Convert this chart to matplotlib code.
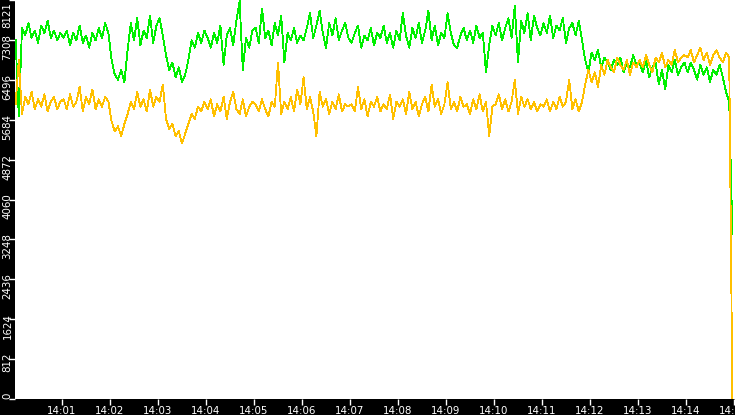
import numpy as np
import matplotlib
matplotlib.use('Agg')
import matplotlib.pyplot as plt
from matplotlib.transforms import ScaledTranslation

# one row per minute, one value every 4 s (14:00:02 ... 14:14:58)
green = [
    7300, 5750, 7550, 7400, 7650, 7350, 7500, 7250, 7600, 7450, 7700, 7350, 7500, 7300, 7450,
    7350, 7500, 7200, 7450, 7300, 7600, 7250, 7400, 7150, 7450, 7300, 7550, 7350, 7650, 7450,
    6900, 6600, 6500, 6700, 6450, 7100, 7650, 7300, 7750, 7200, 7500, 7350, 7800, 7250, 7600,
    7750, 7400, 7000, 6700, 6850, 6550, 6750, 6450, 6600, 6900, 7300, 7150, 7450, 7250, 7500,
    7350, 7150, 7450, 7250, 7600, 6800, 7400, 7550, 7200, 7700, 8100, 6700, 7350, 7150, 7500,
    7550, 7250, 7950, 7350, 7500, 7200, 7650, 7400, 7800, 6850, 7450, 7300, 7550, 7250, 7400,
    7300, 7550, 7850, 7350, 7600, 7900, 7450, 7150, 7650, 7400, 7750, 7300, 7500, 7650, 7350,
    7250, 7450, 7600, 7150, 7400, 7300, 7550, 7200, 7450, 7350, 7600, 7250, 7450, 7150, 7500,
    7300, 7850, 7400, 7150, 7550, 7350, 7650, 7250, 7500, 7900, 7300, 7600, 7200, 7450, 7350,
    7850, 7450, 7200, 7150, 7400, 7550, 7300, 7500, 7250, 7600, 7350, 7450, 6650, 7200, 7600,
    7400, 7650, 7300, 7550, 7750, 7350, 8000, 6850, 7700, 7450, 7850, 7300, 7800, 7550, 7400,
    7650, 7450, 7800, 7350, 7600, 7500, 7750, 7250, 7550, 7650, 7400, 7700, 7300, 6900, 6650,
    7050, 6900, 7100, 6750, 6950, 6850, 6700, 6900, 6800, 6950, 6650, 6850, 6750, 7000, 6800,
    6850, 6650, 6900, 6550, 6750, 6850, 6400, 6700, 6300, 6800, 6650, 6900, 6600, 6750, 6850,
    6650, 6850, 6700, 6500, 6800, 6600, 6750, 6450, 6700, 6600, 6800, 6550, 6250, 6050, 3350,
]
orange = [
    6000, 6900, 5800, 6150, 6000, 6250, 5900, 6100, 5950, 6200, 5850, 6050, 6150, 5900, 6050,
    6100, 5900, 6200, 5950, 6050, 6350, 5850, 6150, 6000, 6300, 5900, 6100, 5950, 6150, 6050,
    5650, 5450, 5550, 5350, 5600, 5800, 6050, 5900, 6250, 5950, 6100, 5850, 6300, 5950, 6150,
    6050, 6400, 5700, 5500, 5600, 5350, 5450, 5200, 5400, 5600, 5800, 5700, 5950, 5850, 6050,
    5900, 6100, 5750, 6000, 5850, 6150, 5700, 6050, 6250, 5900, 5800, 6100, 5750, 5950, 6050,
    6000, 5850, 6100, 5900, 5750, 6050, 5950, 6850, 5800, 6050, 5900, 6150, 5850, 6300, 6000,
    6550, 5900, 6150, 5850, 5350, 6250, 5950, 6100, 5800, 6050, 5900, 6200, 5850, 6000, 5950,
    6000, 5850, 6350, 5900, 6100, 5750, 6050, 5950, 6150, 5850, 6000, 5900, 6200, 5700, 6050,
    5950, 6100, 5800, 6250, 5900, 6050, 5750, 6000, 6150, 5850, 6400, 5950, 6100, 5800, 6000,
    6450, 5900, 6050, 5850, 6150, 5950, 6000, 5800, 6100, 5900, 6200, 5850, 6050, 5350, 5950,
    6000, 6200, 5900, 6100, 5850, 6050, 6500, 5800, 6150, 5950, 6100, 5900, 6050, 5850, 6000,
    5950, 6100, 5850, 6050, 5900, 6150, 5950, 6050, 6500, 5900, 6100, 5850, 6050, 6400, 6700,
    6450, 6650, 6350, 6800, 6600, 6900, 6750, 6650, 6950, 6800, 6700, 6900, 6600, 6850, 6750,
    6900, 6750, 7000, 6800, 6650, 6950, 6850, 7050, 6750, 6900, 6800, 7100, 6850, 6950, 7000,
    6950, 7100, 6850, 7000, 7150, 6900, 7050, 6800, 7000, 7100, 6950, 6850, 7050, 6950, 0,
]
secs = np.arange(len(green)) * 4 + 2  # seconds after 14:00:00

ytick_vals = [0, 812, 1624, 2436, 3248, 4060, 4872, 5684, 6496, 7308, 8121]
xtick_secs = [60 * m for m in range(1, 16)]
xtick_labels = ['14:%02d' % m for m in range(1, 16)]

fig = plt.figure(figsize=(7.35, 4.15), dpi=100, facecolor='black')
ax = fig.add_axes([15 / 735, 16 / 415, 720 / 735, 399 / 415])
ax.set_facecolor('white')

ax.plot(secs, green, color='#00f000', lw=0.6, antialiased=False)
ax.plot(secs, orange, color='#ffc000', lw=0.6, antialiased=False)

ax.set_xlim(1.25, 901.25)
ax.set_ylim(0, 8121)
for s in ax.spines.values():
    s.set_visible(False)

ax.set_xticks(xtick_secs)
ax.set_xticklabels(xtick_labels)
ax.set_yticks(ytick_vals)
ax.set_yticklabels([str(v) for v in ytick_vals], rotation=90, va='top')
ax.tick_params(colors='white', labelsize=7.4, length=4, width=1, pad=1)
ax.tick_params(axis='y', pad=0)

# labels sit a little above their tick, and clear of the left edge
for i, lab in enumerate(ax.get_yticklabels()):
    dy = 0.06 if i < len(ytick_vals) - 1 else -0.02
    lab.set_transform(lab.get_transform() + ScaledTranslation(0.03, dy, fig.dpi_scale_trans))

fig.savefig('out.png', dpi=100, facecolor='black')
